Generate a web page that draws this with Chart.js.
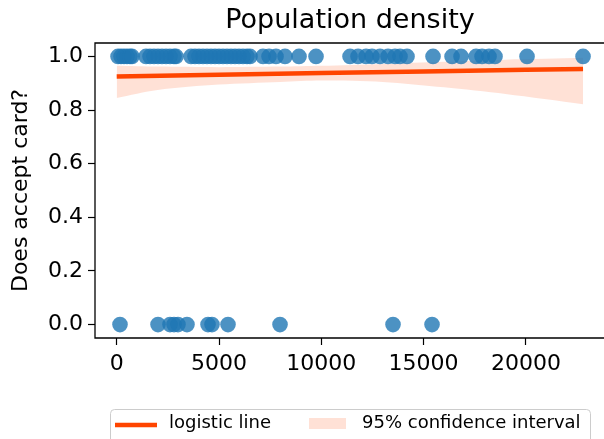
<!DOCTYPE html>
<html>
<head>
<meta charset="utf-8">
<script src="https://cdn.jsdelivr.net/npm/chart.js@4.4.0/dist/chart.umd.min.js"></script>
<style>
html,body{margin:0;padding:0;background:#fff;overflow:hidden}
canvas{display:block}
</style>
</head>
<body>
<canvas id="myChart" width="604" height="439"></canvas>
<script>
const chartTitle='Population density';
const yTitle='Does accept card?';
const xTicks=[0,5000,10000,15000,20000];
const yTicks=[0,0.2,0.4,0.6,0.8,1.0];
const seriesNames=['logistic line','95% confidence interval'];

// population density of places that accept card (y = 1) / don't (y = 0)
const acceptX=[64,210,357,503,650,748,1432,1628,1823,2019,2214,2410,2605,2801,2899,
  3632,3827,4023,4218,4414,4609,4805,5000,5196,5391,5587,5782,5978,6173,6369,6516,
  7151,7445,7787,8227,8911,9742,11404,11795,12186,12479,12870,13261,13603,13848,14190,
  15461,16390,16830,17563,17856,18198,18491,20055,22793];
const rejectX=[161,2019,2605,2801,2996,3436,4463,4658,5440,7982,13505,15412];

const lineX=[0,5000,10000,15000,20000,22793];
const lineY=[0.925,0.932,0.938,0.944,0.950,0.953];

const ciX=[0,2000,5000,8000,10000,13000,16000,19000,22793];
const ciLow=[0.845,0.875,0.895,0.905,0.91,0.905,0.885,0.86,0.822];
const ciHigh=[0.965,0.962,0.96,0.962,0.965,0.972,0.98,0.988,0.995];

const pts=(xs,ys)=>xs.map((x,i)=>({x:x,y:Array.isArray(ys)?ys[i]:ys}));

const blue='rgba(31,119,180,0.8)';
const red='#ff4500';
const pink='rgba(255,69,0,0.16)';
const font='"DejaVu Sans", sans-serif';

const extras={
  id:'extras',
  afterDatasetsDraw(chart){
    const {ctx,chartArea:a}=chart;
    ctx.save();
    // the right spine sits just off the canvas, keep that edge clean
    ctx.fillStyle='#fff';
    ctx.fillRect(600,a.top+1,6,a.bottom-a.top-2);
    ctx.strokeStyle='#000';
    ctx.lineWidth=1.3;
    ctx.beginPath();
    ctx.moveTo(chart.width+2,a.top);
    ctx.lineTo(a.left,a.top);
    ctx.lineTo(a.left,a.bottom);
    ctx.lineTo(chart.width+2,a.bottom);
    ctx.stroke();
    ctx.restore();
  },
  afterDraw(chart){
    const ctx=chart.ctx;
    ctx.save();
    ctx.fillStyle='#000';
    ctx.font='27px '+font;
    ctx.textAlign='center';
    ctx.textBaseline='alphabetic';
    ctx.fillText(chartTitle,350,28);

    // legend
    ctx.beginPath();
    ctx.roundRect(110.5,409.5,480,40,4);
    ctx.fillStyle='rgba(255,255,255,0.8)';
    ctx.fill();
    ctx.strokeStyle='#cccccc';
    ctx.lineWidth=1;
    ctx.stroke();
    ctx.beginPath();
    ctx.moveTo(115,425);ctx.lineTo(157,425);
    ctx.strokeStyle=red;ctx.lineWidth=4.5;ctx.stroke();
    ctx.fillStyle=pink;
    ctx.fillRect(309,418,37,11);
    ctx.fillStyle='#000';
    ctx.font='18px '+font;
    ctx.textAlign='left';
    ctx.fillText(seriesNames[0],169,428);
    ctx.fillText(seriesNames[1],362,428);
    ctx.restore();
  }
};

const config={
  type:'scatter',
  data:{
    datasets:[
      {label:'accept',data:pts(acceptX,1),backgroundColor:blue,borderWidth:0,pointRadius:7.8,order:0},
      {label:'reject',data:pts(rejectX,0),backgroundColor:blue,borderWidth:0,pointRadius:7.8,order:0},
      {type:'line',label:seriesNames[0],data:pts(lineX,lineY),borderColor:red,borderWidth:4.5,pointRadius:0,fill:false,order:1},
      {type:'line',label:'ci low',data:pts(ciX,ciLow),borderWidth:0,borderColor:'rgba(0,0,0,0)',pointRadius:0,fill:false,tension:0.3,order:2},
      {type:'line',label:seriesNames[1],data:pts(ciX,ciHigh),borderWidth:0,borderColor:'rgba(0,0,0,0)',pointRadius:0,fill:'-1',backgroundColor:pink,tension:0.3,order:2}
    ]
  },
  options:{
    responsive:false,
    animation:false,
    devicePixelRatio:1,
    layout:{autoPadding:false,padding:{top:43,left:0,right:0,bottom:55}},
    plugins:{legend:{display:false},tooltip:{enabled:false},title:{display:false}},
    scales:{
      x:{
        type:'linear',min:-1061,max:23817,
        afterBuildTicks:s=>{s.ticks=xTicks.map(v=>({value:v}));},
        afterFit:s=>{s.height=46;s.paddingLeft=0;s.paddingRight=0;},
        grid:{drawOnChartArea:false,drawTicks:true,tickLength:7,tickColor:'#000',tickWidth:1.2},
        border:{display:false},
        ticks:{color:'#000',font:{family:font,size:22},padding:6,maxRotation:0,callback:v=>String(v)}
      },
      y:{
        type:'linear',min:-0.05,max:1.05,
        afterBuildTicks:s=>{s.ticks=yTicks.map(v=>({value:v}));},
        afterFit:s=>{s.width=95;s.paddingTop=0;s.paddingBottom=0;},
        grid:{drawOnChartArea:false,drawTicks:true,tickLength:7,tickColor:'#000',tickWidth:1.2},
        border:{display:false},
        ticks:{color:'#000',font:{family:font,size:22},padding:5,callback:v=>v.toFixed(1)},
        title:{display:true,text:yTitle,color:'#000',font:{family:font,size:22},padding:{top:8,bottom:0}}
      }
    }
  },
  plugins:[extras]
};

const ctx=document.getElementById('myChart').getContext('2d');
new Chart(ctx,config);
</script>
</body>
</html>
